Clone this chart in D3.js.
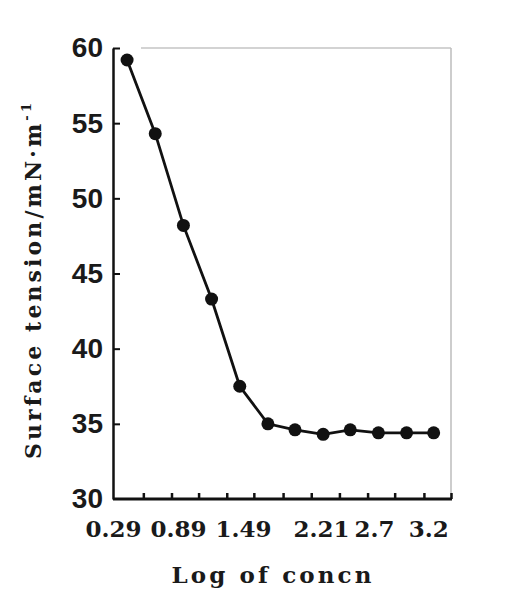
<!DOCTYPE html>
<html>
<head>
<meta charset="utf-8">
<script src="https://cdn.jsdelivr.net/npm/d3@7/dist/d3.min.js"></script>
<style>
  html, body { margin: 0; padding: 0; background: #fff; }
  svg { display: block; }
</style>
</head>
<body>
<script>
// ---- data ----
const logConc = [0.42, 0.68, 0.94, 1.20, 1.46, 1.72, 1.97, 2.23, 2.48, 2.74, 3.00, 3.25];
const surfaceTension = [59.2, 54.3, 48.2, 43.3, 37.5, 35.0, 34.6, 34.3, 34.6, 34.4, 34.4, 34.4];
const xTickLabels = [0.29, 0.89, 1.49, 2.21, 2.7, 3.2];
const xMinorTicks = [0.57, 0.83, 1.08, 1.34, 1.59, 1.86, 2.12, 2.38, 2.64, 2.89, 3.16, 3.41];
const yTicks = [30, 35, 40, 45, 50, 55, 60];
const xTitle = "Log of concn";
const yTitleMain = "Surface tension/mN\u00B7m";
const yTitleSup = "-1";

// ---- layout ----
const W = 510, H = 605;
const mLeft = 113, mRight = 451, mTop = 48, mBottom = 499;
const serif = "'DejaVu Serif', 'Liberation Serif', serif";

const svg = d3.select("body").append("svg")
  .attr("width", W).attr("height", H);

const x = d3.scaleLinear().domain([0.29, 3.41]).range([mLeft, mRight]);
const y = d3.scaleLinear().domain([30, 60]).range([mBottom, mTop]);

// spread a text element's letters so that it spans a target length
function spreadTo(sel, target) {
  sel.each(function() {
    const node = this;
    const txt = node.textContent;
    const natural = node.getComputedTextLength();
    const n = Math.max(1, txt.length - 1);
    d3.select(node).attr("letter-spacing", Math.max(0, (target - natural) / n));
  });
}

// frame (faint top and right borders)
svg.append("line")
  .attr("x1", mLeft + 28).attr("x2", mRight).attr("y1", mTop).attr("y2", mTop)
  .attr("stroke", "#c4c4c4").attr("stroke-width", 1.5);
svg.append("line")
  .attr("x1", mRight).attr("x2", mRight).attr("y1", mTop).attr("y2", mBottom)
  .attr("stroke", "#bdbdbd").attr("stroke-width", 1.5);

// minor ticks on x axis (inward)
const xMinor = svg.append("g")
  .attr("transform", `translate(0,${mBottom})`)
  .call(d3.axisBottom(x).tickValues(xMinorTicks).tickSizeInner(-6).tickSizeOuter(0).tickFormat(""));
xMinor.select(".domain").remove();
xMinor.selectAll(".tick line").attr("stroke", "#111").attr("stroke-width", 2.5);

// x tick labels
const xLab = svg.append("g")
  .attr("transform", `translate(0,${mBottom})`)
  .call(d3.axisBottom(x).tickValues(xTickLabels).tickSize(0).tickPadding(22)
        .tickFormat(d => String(d)));
xLab.select(".domain").remove();
xLab.selectAll(".tick line").remove();
xLab.selectAll(".tick text")
  .attr("font-family", serif)
  .attr("font-weight", "bold")
  .attr("font-size", 23)
  .attr("fill", "#1a1a1a");

// x axis line
svg.append("line")
  .attr("x1", mLeft).attr("x2", mRight + 1).attr("y1", mBottom).attr("y2", mBottom)
  .attr("stroke", "#111").attr("stroke-width", 3);

// y axis
const yAx = svg.append("g")
  .attr("transform", `translate(${mLeft},0)`)
  .call(d3.axisLeft(y).tickValues(yTicks).tickSizeInner(-7).tickSizeOuter(0).tickPadding(10));
yAx.select(".domain").attr("stroke", "#111").attr("stroke-width", 2.5);
yAx.selectAll(".tick line").attr("stroke", "#111").attr("stroke-width", 2);
yAx.selectAll(".tick text")
  .attr("font-family", "'Liberation Sans', Arial, sans-serif")
  .attr("font-weight", "bold")
  .attr("font-size", 28)
  .attr("fill", "#1a1a1a");
yAx.selectAll(".tick").filter(d => d === 30).select("line").remove();

// data line
const pts = logConc.map((v, i) => [v, surfaceTension[i]]);
svg.append("path")
  .datum(pts)
  .attr("fill", "none")
  .attr("stroke", "#111")
  .attr("stroke-width", 2.8)
  .attr("d", d3.line().x(d => x(d[0])).y(d => y(d[1])));

svg.append("g").selectAll("circle")
  .data(pts).join("circle")
  .attr("cx", d => x(d[0]))
  .attr("cy", d => y(d[1]))
  .attr("r", 6.5)
  .attr("fill", "#111");

// x title
const xt = svg.append("text")
  .attr("x", 273).attr("y", 583)
  .attr("text-anchor", "middle")
  .attr("font-family", serif)
  .attr("font-weight", "bold")
  .attr("font-size", 23)
  .attr("fill", "#1a1a1a")
  .text(xTitle);
spreadTo(xt, 200);

// y title
const yt = svg.append("text")
  .attr("transform", `translate(41,${(100 + 459) / 2}) rotate(-90)`)
  .attr("text-anchor", "middle")
  .attr("font-family", serif)
  .attr("font-weight", "bold")
  .attr("font-size", 22)
  .attr("fill", "#1a1a1a");
yt.append("tspan").text(yTitleMain);
yt.append("tspan").attr("dy", -10).attr("font-size", 13).text(yTitleSup);
spreadTo(yt, 356);
</script>
</body>
</html>
